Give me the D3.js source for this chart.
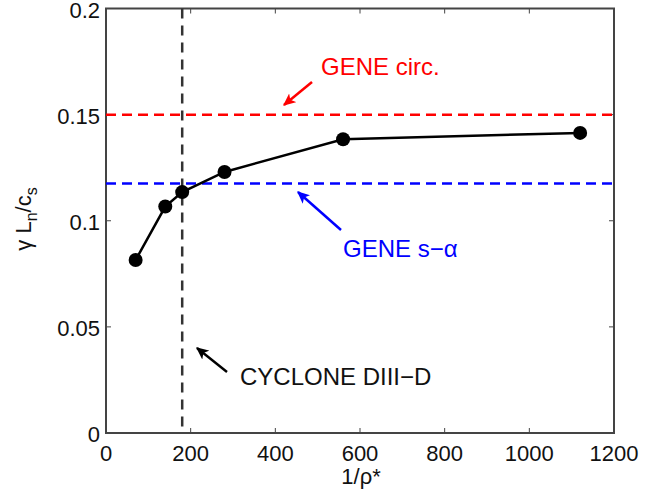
<!DOCTYPE html>
<html>
<head>
<meta charset="utf-8">
<script src="https://cdn.jsdelivr.net/npm/d3@7"></script>
<style>
  body { margin: 0; background: #fff; }
  text { font-family: "Liberation Sans", Arial, Helvetica, sans-serif; }
</style>
</head>
<body>
<svg id="chart" width="646" height="492"></svg>
<script>
// growth rate vs 1/rho*
const invRho = [70, 140, 180, 280, 560, 1120]
const gamma = [0.0815, 0.1067, 0.1135, 0.123, 0.1384, 0.1414]

// reference levels
const geneCirc = 0.150
const geneSAlpha = 0.1175
const cycloneRho = 180

const xTicks = [0, 200, 400, 600, 800, 1000, 1200]
const yTicks = [0, 0.05, 0.1, 0.15, 0.2]

const svg = d3.select('#chart')
const plotL = 106, plotR = 614, plotT = 8.5, plotB = 433

const x = d3.scaleLinear().domain([0, 1200]).range([plotL, plotR])
const y = d3.scaleLinear().domain([0, 0.2]).range([plotB, plotT])

const axisColor = '#444'

// arrow heads
const defs = svg.append('defs')
const addMarker = (id, color) => {
  defs.append('marker')
    .attr('id', id)
    .attr('viewBox', '0 -5 10 10')
    .attr('refX', 9).attr('refY', 0)
    .attr('markerWidth', 5).attr('markerHeight', 5)
    .attr('markerUnits', 'strokeWidth')
    .attr('orient', 'auto')
    .append('path')
    .attr('d', 'M0,-4.5L10,0L0,4.5L2.5,0Z')
    .attr('fill', color)
}
addMarker('arrRed', '#f00')
addMarker('arrBlue', '#00f')
addMarker('arrBlack', '#000')

// axes box with inward ticks on all four sides
const g = svg.append('g')
const tickLen = 5
xTicks.forEach(t => {
  g.append('line').attr('x1', x(t)).attr('x2', x(t)).attr('y1', plotB).attr('y2', plotB - tickLen)
    .attr('stroke', axisColor).attr('stroke-width', 1)
  g.append('line').attr('x1', x(t)).attr('x2', x(t)).attr('y1', plotT).attr('y2', plotT + tickLen)
    .attr('stroke', axisColor).attr('stroke-width', 1)
  g.append('text').attr('x', x(t)).attr('y', 461)
    .attr('text-anchor', 'middle').attr('font-size', 22).attr('fill', '#111')
    .text(d3.format('d')(t))
})
yTicks.forEach(t => {
  g.append('line').attr('y1', y(t)).attr('y2', y(t)).attr('x1', plotL).attr('x2', plotL + tickLen)
    .attr('stroke', axisColor).attr('stroke-width', 1)
  g.append('line').attr('y1', y(t)).attr('y2', y(t)).attr('x1', plotR).attr('x2', plotR - tickLen)
    .attr('stroke', axisColor).attr('stroke-width', 1)
  g.append('text').attr('x', 100).attr('y', y(t) + 9)
    .attr('text-anchor', 'end').attr('font-size', 22).attr('fill', '#111')
    .text(t === 0 ? '0' : String(t))
})
g.append('rect')
  .attr('x', plotL).attr('y', plotT)
  .attr('width', plotR - plotL).attr('height', plotB - plotT)
  .attr('fill', 'none').attr('stroke', axisColor).attr('stroke-width', 2)

// reference dashed lines
svg.append('line')
  .attr('x1', x(0)).attr('x2', x(1200)).attr('y1', y(geneCirc)).attr('y2', y(geneCirc))
  .attr('stroke', '#f00').attr('stroke-width', 2.5).attr('stroke-dasharray', '10,6')
svg.append('line')
  .attr('x1', x(0)).attr('x2', x(1200)).attr('y1', y(geneSAlpha)).attr('y2', y(geneSAlpha))
  .attr('stroke', '#00f').attr('stroke-width', 2.5).attr('stroke-dasharray', '10,6')
svg.append('line')
  .attr('x1', x(cycloneRho)).attr('x2', x(cycloneRho)).attr('y1', y(0.2)).attr('y2', y(0))
  .attr('stroke', '#333').attr('stroke-width', 2.5).attr('stroke-dasharray', '10,7')

// data line + markers
const pts = invRho.map((v, i) => [v, gamma[i]])
svg.append('path')
  .datum(pts)
  .attr('fill', 'none').attr('stroke', '#000').attr('stroke-width', 2.5)
  .attr('d', d3.line().x(d => x(d[0])).y(d => y(d[1])))
svg.selectAll('circle.pt')
  .data(pts)
  .enter().append('circle')
  .attr('class', 'pt')
  .attr('cx', d => x(d[0])).attr('cy', d => y(d[1]))
  .attr('r', 7).attr('fill', '#000')

// annotations
const arrow = (x1, y1, x2, y2, color, id) => {
  svg.append('line')
    .attr('x1', x1).attr('y1', y1).attr('x2', x2).attr('y2', y2)
    .attr('stroke', color).attr('stroke-width', 2.5)
    .attr('marker-end', `url(#${id})`)
}
arrow(312, 82, 284, 105, '#f00', 'arrRed')
svg.append('text').attr('x', 321).attr('y', 75)
  .attr('font-size', 24).attr('fill', '#f00').text('GENE circ.')

arrow(341, 230, 298, 192, '#00f', 'arrBlue')
svg.append('text').attr('x', 343).attr('y', 257)
  .attr('font-size', 24).attr('fill', '#00f').text('GENE s\u2212\u03b1')

arrow(227, 372, 197, 348, '#000', 'arrBlack')
svg.append('text').attr('x', 240).attr('y', 385)
  .attr('font-size', 24).attr('fill', '#111').text('CYCLONE DIII\u2212D')

// axis labels
svg.append('text').attr('x', 361).attr('y', 484)
  .attr('text-anchor', 'middle').attr('font-size', 22).attr('fill', '#111')
  .text('1/\u03c1*')

const yl = svg.append('text')
  .attr('transform', 'translate(31,219) rotate(-90)')
  .attr('text-anchor', 'middle').attr('font-size', 22).attr('fill', '#111')
yl.append('tspan').text('\u03b3 L')
yl.append('tspan').attr('font-size', 16).attr('dy', 6).text('n')
yl.append('tspan').attr('dy', -6).text('/c')
yl.append('tspan').attr('font-size', 16).attr('dy', 6).text('s')
</script>
</body>
</html>
